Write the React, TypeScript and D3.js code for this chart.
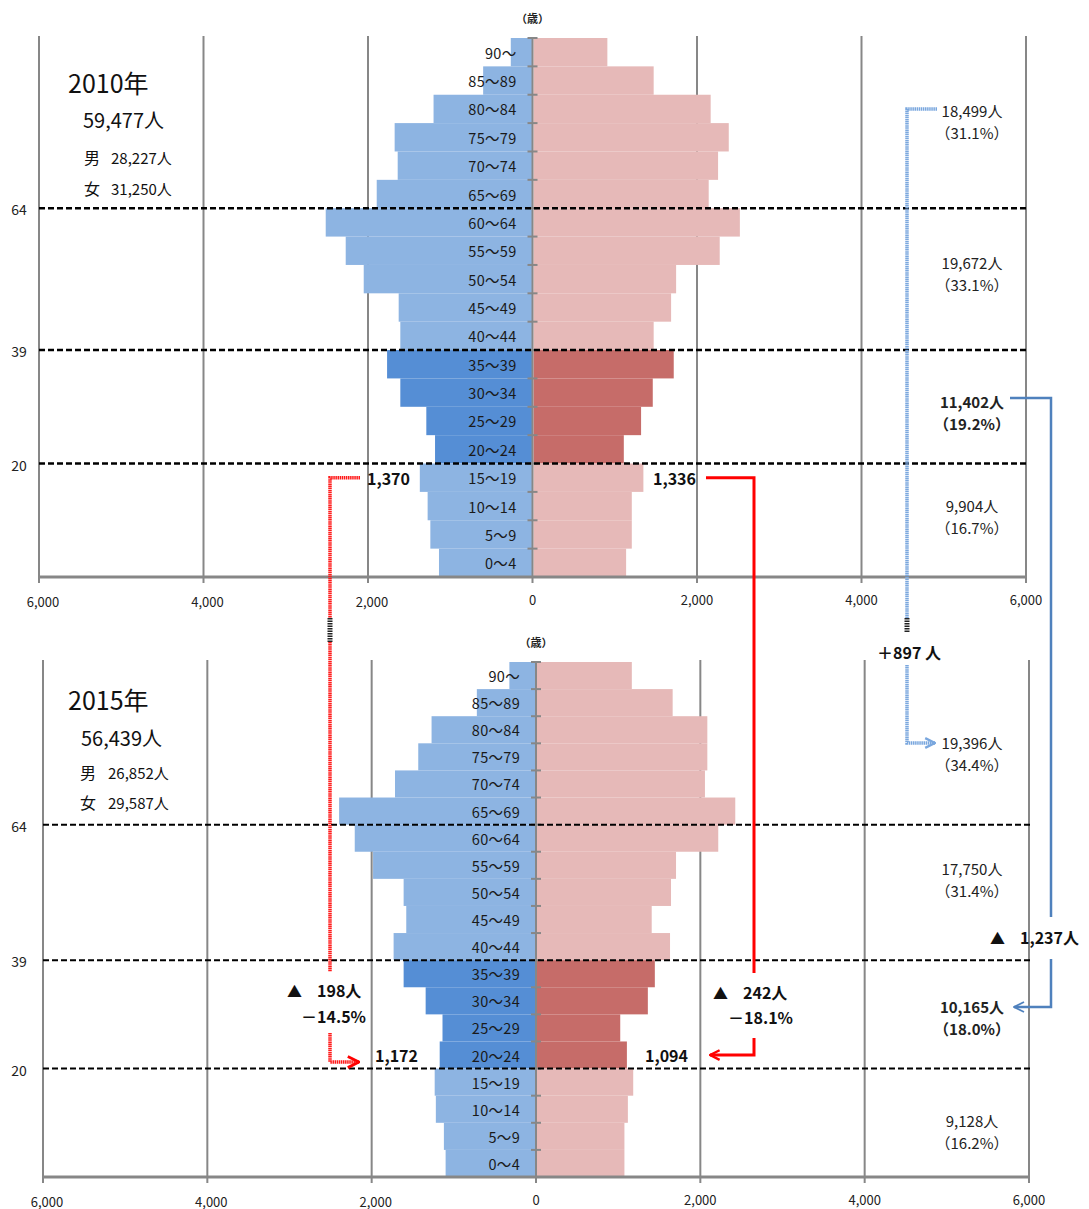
import * as d3 from 'd3';
import React from 'react';

const AGE_GROUPS = ['90～', '85～89', '80～84', '75～79', '70～74', '65～69', '60～64', '55～59', '50～54', '45～49',
  '40～44', '35～39', '30～34', '25～29', '20～24', '15～19', '10～14', '5～9', '0～4'];

const MALE_2010 = [264, 600, 1203, 1676, 1639, 1894, 2514, 2271, 2052, 1627, 1607, 1768, 1607, 1291, 1185, 1370, 1275, 1242, 1137];
const FEMALE_2010 = [898, 1461, 2154, 2374, 2244, 2130, 2509, 2264, 1734, 1673, 1461, 1705, 1450, 1308, 1098, 1336, 1195, 1195, 1126];
const MALE_2015 = [324, 720, 1271, 1433, 1716, 2396, 2206, 1983, 1611, 1579, 1733, 1611, 1343, 1138, 1172, 1233, 1219, 1121, 1100];
const FEMALE_2015 = [1154, 1651, 2073, 2073, 2044, 2413, 2206, 1692, 1631, 1396, 1619, 1434, 1349, 1013, 1094, 1171, 1106, 1064, 1064];

const X_TICKS = [-6000, -4000, -2000, 0, 2000, 4000, 6000];
const BOUNDARY_LABELS = ['64', '39', '20'];
const BOUNDARY_ROWS = ['60～64', '35～39', '15～19'];
const HIGHLIGHT_ROWS = ['35～39', '30～34', '25～29', '20～24'];

const YEARS = ['2010年', '2015年'];
const TOTALS = ['59,477人', '56,439人'];
const MEN = ['28,227人', '26,852人'];
const WOMEN = ['31,250人', '29,587人'];

const GROUP_COUNTS_2010 = ['18,499人', '19,672人', '11,402人', '9,904人'];
const GROUP_SHARES_2010 = ['（31.1%）', '（33.1%）', '（19.2%）', '（16.7%）'];
const GROUP_COUNTS_2015 = ['19,396人', '17,750人', '10,165人', '9,128人'];
const GROUP_SHARES_2015 = ['（34.4%）', '（31.4%）', '（18.0%）', '（16.2%）'];

const CHANGE_OLD = '＋897 人';
const CHANGE_YOUNG = '1,237人';
const CHANGE_MALE = ['198人', '－14.5%'];
const CHANGE_FEMALE = ['242人', '－18.1%'];

const FONT = '"Noto Sans CJK JP", "Noto Sans", sans-serif';
const GRID = '#878787';
const fmt = d3.format(',');

interface PanelProps {
  idx: number;
  male: number[];
  female: number[];
  top: number;
  bottom: number;
  x0: number;
  x1: number;
  dashW: number;
  info: { year: number; total: number; men: number; women: number; tx: number; lx: number; nx: number };
  groupY: number[];
  counts: string[];
  shares: string[];
}

function Panel({ idx, male, female, top, bottom, x0, x1, dashW, info, groupY, counts, shares }: PanelProps) {
  const x = d3.scaleLinear().domain([-6000, 6000]).range([x0, x1]);
  const y = d3.scaleBand<string>().domain(AGE_GROUPS).range([top, bottom]).padding(0);
  const bw = y.bandwidth();
  const zx = x(0);
  const hi = (a: string) => HIGHLIGHT_ROWS.includes(a);

  return (
    <g fontFamily={FONT}>
      {X_TICKS.filter(t => t !== 0).map(t => (
        <line key={t} x1={x(t)} x2={x(t)} y1={top - 2} y2={bottom} stroke={GRID} strokeWidth={2} />
      ))}
      {AGE_GROUPS.map((a, i) => (
        <rect key={'m' + a} x={x(-male[i])} y={y(a)} width={zx - x(-male[i])} height={bw}
          fill={hi(a) ? '#558ed5' : '#8db4e2'} />
      ))}
      {AGE_GROUPS.map((a, i) => (
        <rect key={'f' + a} x={zx + 1} y={y(a)} width={x(female[i]) - zx} height={bw}
          fill={hi(a) ? '#c66c69' : '#e6b9b8'} />
      ))}
      <line x1={zx} x2={zx} y1={top - 1} y2={bottom} stroke={GRID} strokeWidth={2} />
      {d3.range(AGE_GROUPS.length).map(i => (
        <line key={'t' + i} x1={zx - 5} x2={zx + 5} y1={top + i * bw} y2={top + i * bw} stroke={GRID} strokeWidth={2} />
      ))}
      {AGE_GROUPS.map(a => (
        <text key={'l' + a} x={zx - 16} y={(y(a) ?? 0) + bw / 2} textAnchor="end" dominantBaseline="central"
          fontSize={14.5} letterSpacing={0.3} fill="#1a1a1a">{a}</text>
      ))}
      <line x1={x0} x2={x1} y1={bottom} y2={bottom} stroke={GRID} strokeWidth={3} />
      {X_TICKS.map(t => (
        <g key={'xt' + t}>
          <line x1={x(t)} x2={x(t)} y1={bottom} y2={bottom + 6} stroke={GRID} strokeWidth={2} />
          <text x={x(t) + (t < 0 ? 4 : 0)} y={bottom + (t < 0 ? 24 : 22)} textAnchor="middle" dominantBaseline="central"
            fontSize={13} fill="#222">{fmt(Math.abs(t))}</text>
        </g>
      ))}
      {BOUNDARY_ROWS.map((a, i) => (
        <g key={'b' + a}>
          <line x1={x0} x2={x1 + 3} y1={y(a)} y2={y(a)} stroke="#000" strokeWidth={dashW} strokeDasharray="6 3" />
          <text x={19} y={(y(a) ?? 0) + 1} textAnchor="middle" dominantBaseline="central" fontSize={14} fill="#222">
            {BOUNDARY_LABELS[i]}
          </text>
        </g>
      ))}
      <text x={zx} y={top - 20} textAnchor="middle" dominantBaseline="central" fontSize={11} fontWeight="bold" fill="#222">（歳）</text>
      <text x={68} y={info.year} fontSize={25} fill="#111">{YEARS[idx]}</text>
      <text x={info.tx} y={info.total} fontSize={20} fill="#111">{TOTALS[idx]}</text>
      <text x={info.lx} y={info.men} fontSize={16} fill="#111">男</text>
      <text x={info.nx} y={info.men} fontSize={15} fill="#111">{MEN[idx]}</text>
      <text x={info.lx} y={info.women} fontSize={16} fill="#111">女</text>
      <text x={info.nx} y={info.women} fontSize={15} fill="#111">{WOMEN[idx]}</text>
      {counts.map((c, i) => (
        <g key={'g' + i} fontWeight={i === 2 ? 'bold' : 'normal'} fill="#222">
          <text x={972} y={groupY[i]} textAnchor="middle" dominantBaseline="central" fontSize={15}>{c}</text>
          <text x={972} y={groupY[i] + 22} textAnchor="middle" dominantBaseline="central" fontSize={15}>{shares[i]}</text>
        </g>
      ))}
    </g>
  );
}

export default function App() {
  const yTop = d3.scaleBand<string>().domain(AGE_GROUPS).range([38, 577]);
  const yBot = d3.scaleBand<string>().domain(AGE_GROUPS).range([662, 1177]);
  const mid = (s: d3.ScaleBand<string>, a: string) => (s(a) ?? 0) + s.bandwidth() / 2;
  const r1 = mid(yTop, '15～19');
  const r2 = mid(yBot, '20～24');
  const redDot = { stroke: '#ff1a1a', strokeWidth: 3.5, strokeDasharray: '1.5 0.6' };
  const blueDot = { stroke: '#7aa7de', strokeWidth: 3.5, strokeDasharray: '1.5 0.6' };

  return (
    <svg width={1089} height={1209} style={{ position: 'absolute', left: 0, top: 0, background: '#fff' }}>
      <defs>
        <marker id="arrRed" viewBox="0 0 10 10" refX={9} refY={5} markerWidth={4} markerHeight={4} orient="auto">
          <path d="M1,1 L9,5 L1,9" fill="none" stroke="#ff0000" strokeWidth={2} />
        </marker>
        <marker id="arrBlue" viewBox="0 0 10 10" refX={9} refY={5} markerWidth={5} markerHeight={5} orient="auto">
          <path d="M1,1 L9,5 L1,9" fill="none" stroke="#4f81bd" strokeWidth={1.5} />
        </marker>
        <marker id="arrLight" viewBox="0 0 10 10" refX={9} refY={5} markerWidth={3.5} markerHeight={3.5} orient="auto">
          <path d="M1,1 L9,5 L1,9" fill="none" stroke="#7aa7de" strokeWidth={2} />
        </marker>
      </defs>
      <rect width={1089} height={1209} fill="#fff" />
      <Panel idx={0} male={MALE_2010} female={FEMALE_2010} top={38} bottom={577} x0={39} x1={1026} dashW={2.5}
        info={{ year: 93, total: 128, men: 164, women: 195, tx: 83, lx: 84, nx: 111 }}
        groupY={[110, 262, 401, 505]} counts={GROUP_COUNTS_2010} shares={GROUP_SHARES_2010} />
      <Panel idx={1} male={MALE_2015} female={FEMALE_2015} top={662} bottom={1177} x0={43} x1={1029} dashW={2}
        info={{ year: 710, total: 746, men: 779, women: 809, tx: 81, lx: 80, nx: 108 }}
        groupY={[742, 868, 1006, 1120]} counts={GROUP_COUNTS_2015} shares={GROUP_SHARES_2015} />

      {/* connectors */}
      <g fill="none">
        <path d="M937,109 H907 V618" {...blueDot} />
        <path d="M907,665 V743 H935" {...blueDot} markerEnd="url(#arrLight)" />
        <path d="M1010,398 H1051 V917" stroke="#4f81bd" strokeWidth={2.5} />
        <path d="M1051,959 V1007 H1014" stroke="#4f81bd" strokeWidth={2.5} markerEnd="url(#arrBlue)" />
        <path d={`M360,${r1} H330 V618`} {...redDot} />
        <path d="M330,642 V972" {...redDot} />
        <path d={`M330,1033 V${r2 + 7} H359`} {...redDot} markerEnd="url(#arrRed)" />
        <path d={`M706,${r1} H754 V973`} stroke="#ff0000" strokeWidth={3} />
        <path d={`M754,1038 V${r2} H710`} stroke="#ff0000" strokeWidth={3} markerEnd="url(#arrRed)" />
        <line x1={907} x2={907} y1={618} y2={633} stroke="#222" strokeWidth={5} strokeDasharray="1.5 1" />
        <line x1={330} x2={330} y1={618} y2={642} stroke="#222" strokeWidth={5} strokeDasharray="1.5 1" />
      </g>
      <g fontFamily={FONT} fontWeight="bold" fill="#111">
        <text x={410} y={r1} textAnchor="end" dominantBaseline="central" fontSize={16}>{fmt(MALE_2010[15])}</text>
        <text x={653} y={r1} dominantBaseline="central" fontSize={16}>{fmt(FEMALE_2010[15])}</text>
        <text x={418} y={r2} textAnchor="end" dominantBaseline="central" fontSize={16}>{fmt(MALE_2015[14])}</text>
        <text x={645} y={r2} dominantBaseline="central" fontSize={16}>{fmt(FEMALE_2015[14])}</text>
        <text x={909} y={652} textAnchor="middle" dominantBaseline="central" fontSize={16}>{CHANGE_OLD}</text>
        <text x={990} y={937} dominantBaseline="central" fontSize={15}>▲</text>
        <text x={1020} y={937} dominantBaseline="central" fontSize={16}>{CHANGE_YOUNG}</text>
        <text x={287} y={990} dominantBaseline="central" fontSize={15}>▲</text>
        <text x={317} y={990} dominantBaseline="central" fontSize={16}>{CHANGE_MALE[0]}</text>
        <text x={366} y={1016} textAnchor="end" dominantBaseline="central" fontSize={16}>{CHANGE_MALE[1]}</text>
        <text x={713} y={992} dominantBaseline="central" fontSize={15}>▲</text>
        <text x={743} y={992} dominantBaseline="central" fontSize={16}>{CHANGE_FEMALE[0]}</text>
        <text x={793} y={1017} textAnchor="end" dominantBaseline="central" fontSize={16}>{CHANGE_FEMALE[1]}</text>
      </g>
    </svg>
  );
}
